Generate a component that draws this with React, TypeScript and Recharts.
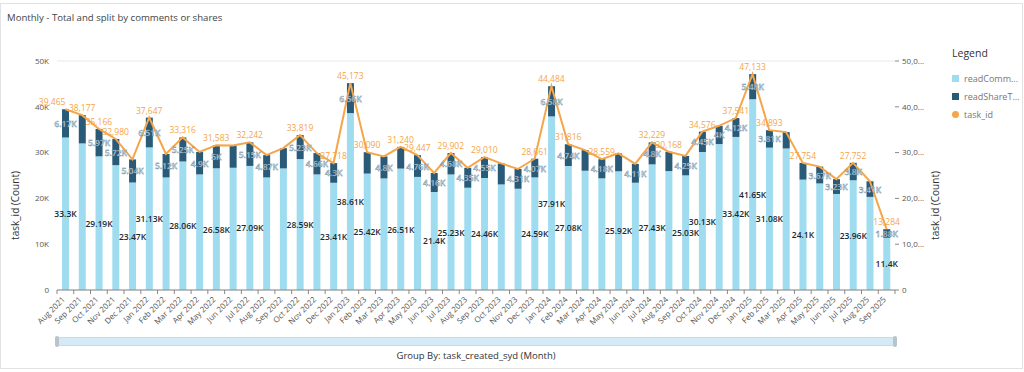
import { ComposedChart, Bar, Line, XAxis, YAxis, CartesianGrid, LabelList } from "recharts";

const months = [
  "Aug 2021", "Sep 2021", "Oct 2021", "Nov 2021", "Dec 2021",
  "Jan 2022", "Feb 2022", "Mar 2022", "Apr 2022", "May 2022", "Jun 2022", "Jul 2022", "Aug 2022", "Sep 2022", "Oct 2022", "Nov 2022", "Dec 2022",
  "Jan 2023", "Feb 2023", "Mar 2023", "Apr 2023", "May 2023", "Jun 2023", "Jul 2023", "Aug 2023", "Sep 2023", "Oct 2023", "Nov 2023", "Dec 2023",
  "Jan 2024", "Feb 2024", "Mar 2024", "Apr 2024", "May 2024", "Jun 2024", "Jul 2024", "Aug 2024", "Sep 2024", "Oct 2024", "Nov 2024", "Dec 2024",
  "Jan 2025", "Feb 2025", "Mar 2025", "Apr 2025", "May 2025", "Jun 2025", "Jul 2025", "Aug 2025", "Sep 2025",
];

// readComment counts (light part of the bar)
const readComment = [
  33300, 32000, 29190, 27260, 23470,
  31130, 24580, 28060, 25240, 26580, 26690, 27090, 24580, 26550, 28590, 25240, 23410,
  38610, 25420, 24360, 26510, 24690, 21400, 25230, 22330, 24460, 23050, 22110, 24590,
  37910, 27080, 26040, 24380, 25920, 23420, 27430, 25960, 25030, 30130, 31850, 33420,
  41650, 31080, 30900, 24100, 23270, 20970, 23960, 20330, 11400,
];

// readShareTask counts (dark part of the bar)
const readShare = [
  6170, 6180, 5970, 5720, 5040,
  6510, 5120, 5250, 4900, 5000, 4870, 5150, 4870, 4430, 5230, 4660, 4300,
  6560, 4670, 4800, 4730, 4760, 4160, 4680, 4350, 4550, 4590, 4310, 4070,
  6580, 4740, 4510, 4180, 3900, 4110, 4800, 4210, 4250, 4450, 4000, 4120,
  5480, 3810, 3570, 3650, 3670, 3230, 3800, 3410, 1880,
];

// task_id count (line)
const taskTotal = [
  39465, 38177, 35166, 32980, 28510,
  37647, 29700, 33316, 30140, 31583, 31560, 32242, 29450, 30980, 33819, 29900, 27718,
  45173, 30090, 29160, 31240, 29447, 25560, 29902, 26680, 29010, 27640, 26420, 28661,
  44484, 31816, 30550, 28559, 29820, 27530, 32229, 30168, 29280, 34576, 35850, 37541,
  47133, 34893, 34470, 27754, 26940, 24200, 27752, 23740, 13284,
];

// which months show a data label (the rest were hidden for overlap)
const totalLabelAt = [0, 1, 2, 3, 5, 7, 9, 11, 14, 16, 17, 18, 20, 21, 23, 25, 28, 29, 30, 32, 35, 36, 38, 40, 41, 42, 44, 47, 49];
const commentLabelAt = [0, 2, 4, 5, 7, 9, 11, 14, 16, 17, 18, 20, 22, 23, 25, 28, 29, 30, 33, 35, 37, 38, 40, 41, 42, 44, 47, 49];
const shareLabelAt = [0, 2, 3, 4, 5, 6, 7, 8, 9, 11, 12, 14, 15, 16, 17, 19, 21, 22, 23, 24, 25, 27, 28, 29, 30, 32, 34, 35, 37, 38, 39, 40, 41, 42, 45, 46, 47, 48, 49];

const yTicks = [0, 10000, 20000, 30000, 40000, 50000];

const data = months.map((m, i) => ({
  month: m,
  readComment: readComment[i],
  readShare: readShare[i],
  task_id: taskTotal[i],
}));

const FONT = "'Open Sans', 'Noto Sans', sans-serif";
const LIGHT = "#9fdcf0";
const DARK = "#295a78";
const ORANGE = "#f5a54a";

const fmtK = (v: number) => `${+(v / 1000).toFixed(2)}K`;

function XTick(props: any) {
  const { x, y, payload, index } = props;
  const off = payload.offset || 0;
  return (
    <g>
      <line x1={x - off} x2={x - off} y1={y - 8} y2={y - 4} stroke="#888" />
      {index === months.length - 1 && <line x1={x + off} x2={x + off} y1={y - 8} y2={y - 4} stroke="#888" />}
      <text
        x={x}
        y={y + 2}
        transform={`rotate(-45 ${x} ${y + 2})`}
        textAnchor="end"
        fontSize={8}
        fill="#555"
        fontFamily={FONT}
      >
        {payload.value}
      </text>
    </g>
  );
}

function YTitle(props: any) {
  const { viewBox, side } = props;
  const cx = side === "left" ? viewBox.x - 1 : viewBox.x + 40;
  const cy = viewBox.y + viewBox.height / 2 + 30;
  return (
    <text
      x={cx}
      y={cy}
      transform={`rotate(-90 ${cx} ${cy})`}
      textAnchor="middle"
      dominantBaseline="central"
      fontSize={10}
      fill="#333"
      fontFamily={FONT}
    >
      task_id (Count)
    </text>
  );
}

function commentLabel(props: any) {
  const { x, y, width, height, value, index } = props;
  if (!commentLabelAt.includes(index)) return null;
  return (
    <text x={x + width / 2} y={y + height / 2} textAnchor="middle" dominantBaseline="central"
      fontSize={8.5} fontWeight={600} fill="#1d2a33" fontFamily={FONT}>
      {fmtK(value)}
    </text>
  );
}

function shareLabel(props: any) {
  const { x, y, width, height, value, index } = props;
  if (!shareLabelAt.includes(index)) return null;
  return (
    <text x={x + width / 2} y={y + height / 2} textAnchor="middle" dominantBaseline="central"
      fontSize={8.5} fontWeight={600} fill="#e4edf2" stroke="#4d7590" strokeWidth={0.35}
      fontFamily={FONT}>
      {fmtK(value)}
    </text>
  );
}

function totalLabel(props: any) {
  const { x, y, value, index } = props;
  if (!totalLabelAt.includes(index)) return null;
  // the first label is pushed left so it clears its neighbour
  return (
    <text x={x} y={y - 4} textAnchor={index === 0 ? "end" : "middle"}
      fontSize={8.5} fill={ORANGE} fontFamily={FONT}>
      {value.toLocaleString("en-US")}
    </text>
  );
}

const legendItems = [
  { name: "readComm...", color: LIGHT, shape: "square" },
  { name: "readShareT...", color: DARK, shape: "square" },
  { name: "task_id", color: ORANGE, shape: "circle" },
];

export default function App() {
  return (
    <div style={{ position: "absolute", left: 0, top: 0, width: 1024, height: 372, background: "#fff", fontFamily: FONT }}>
      <div style={{ position: "absolute", left: 0, top: 3, width: 1021, height: 364, border: "1px solid #e2e2e2" }} />
      <div style={{ position: "absolute", left: 7, top: 11, fontSize: 9.6, color: "#444" }}>
        Monthly - Total and split by comments or shares
      </div>

      <div style={{ position: "absolute", left: 0, top: 0 }}>
        <ComposedChart
          width={1024}
          height={335}
          data={data}
          margin={{ top: 61, right: 89, left: 16, bottom: 5 }}
          barCategoryGap="30%"
        >
          <CartesianGrid vertical={false} stroke="#e9e9e9" />
          <XAxis
            dataKey="month"
            interval={0}
            height={40}
            tickLine={false}
            axisLine={{ stroke: "#888" }}
            tick={<XTick />}
          />
          <YAxis
            yAxisId="left"
            width={41}
            domain={[0, 50000]}
            ticks={yTicks}
            tickLine={false}
            axisLine={false}
            tickFormatter={(v: number) => (v === 0 ? "0" : `${v / 1000}K`)}
            tick={{ fontSize: 8, fill: "#555", fontFamily: FONT }}
            label={<YTitle side="left" />}
          />
          <YAxis
            yAxisId="right"
            orientation="right"
            width={40}
            domain={[0, 50000]}
            ticks={yTicks}
            tickSize={4}
            tickMargin={3}
            tickLine={{ stroke: "#888" }}
            axisLine={false}
            tickFormatter={(v: number) => (v === 0 ? "0" : `${v.toLocaleString("en-US").slice(0, 4)}...`)}
            tick={{ fontSize: 8, fill: "#555", fontFamily: FONT, textAnchor: "start" }}
            label={<YTitle side="right" />}
          />
          <Bar yAxisId="left" dataKey="readComment" stackId="a" fill={LIGHT} isAnimationActive={false}>
            <LabelList dataKey="readComment" content={commentLabel} />
          </Bar>
          <Bar yAxisId="left" dataKey="readShare" stackId="a" fill={DARK} isAnimationActive={false}>
            <LabelList dataKey="readShare" content={shareLabel} />
          </Bar>
          <Line
            yAxisId="right"
            dataKey="task_id"
            type="linear"
            stroke={ORANGE}
            strokeWidth={2}
            dot={false}
            activeDot={false}
            isAnimationActive={false}
          >
            <LabelList dataKey="task_id" content={totalLabel} />
          </Line>
        </ComposedChart>
      </div>

      <div style={{ position: "absolute", left: 946, top: 46 }}>
        <div style={{ fontSize: 10.5, color: "#333", marginLeft: 6, marginBottom: 9 }}>Legend</div>
        {legendItems.map((it) => (
          <div key={it.name} style={{ display: "flex", alignItems: "center", height: 18, marginLeft: 6 }}>
            <span
              style={{
                width: 7,
                height: 7,
                background: it.color,
                borderRadius: it.shape === "circle" ? "50%" : 0,
                marginRight: 5,
                display: "inline-block",
              }}
            />
            <span style={{ fontSize: 9, color: "#777" }}>{it.name}</span>
          </div>
        ))}
      </div>

      <div
        style={{
          position: "absolute",
          left: 57,
          top: 337,
          width: 838,
          height: 9,
          background: "#d4ebf7",
          border: "1px solid #c3dcea",
          boxSizing: "border-box",
          borderRadius: 2,
        }}
      />
      <div style={{ position: "absolute", left: 55, top: 336, width: 4, height: 11, background: "#b9c3ca", borderRadius: 2 }} />
      <div style={{ position: "absolute", left: 893, top: 336, width: 4, height: 11, background: "#b9c3ca", borderRadius: 2 }} />
      <div style={{ position: "absolute", left: 0, width: 952, top: 349, textAlign: "center", fontSize: 9.5, color: "#333" }}>
        Group By: task_created_syd (Month)
      </div>
    </div>
  );
}
